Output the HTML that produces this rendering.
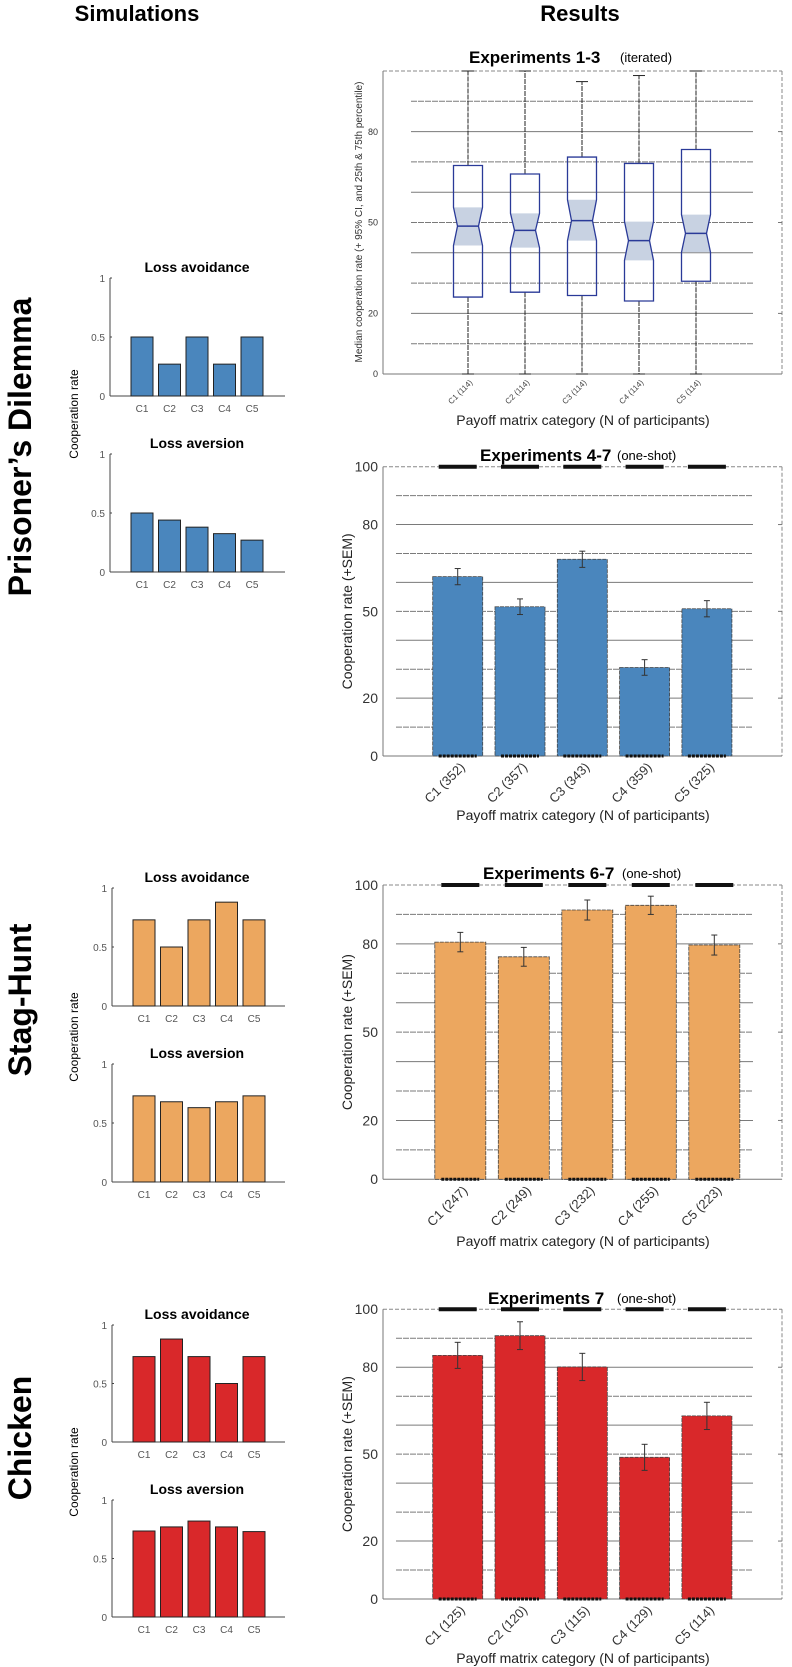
<!DOCTYPE html>
<html><head><meta charset="utf-8">
<style>
html,body{margin:0;padding:0;background:#fff;}
svg{display:block;font-family:"Liberation Sans",sans-serif;}
</style></head>
<body>
<svg id="fig" width="792" height="1667" viewBox="0 0 792 1667" xmlns="http://www.w3.org/2000/svg">
<text x="137" y="21" font-size="22" font-weight="bold" text-anchor="middle">Simulations</text>
<text x="580" y="21" font-size="22" font-weight="bold" text-anchor="middle">Results</text>
<text transform="translate(31,447) rotate(-90)" font-size="32" font-weight="bold" text-anchor="middle">Prisoner’s Dilemma</text>
<text transform="translate(31,1000) rotate(-90)" font-size="32" font-weight="bold" text-anchor="middle">Stag-Hunt</text>
<text transform="translate(31,1438) rotate(-90)" font-size="32" font-weight="bold" text-anchor="middle">Chicken</text>
</svg>
<script>
// ---------- data ----------
const simCats = ["C1","C2","C3","C4","C5"];
const pdAvoid = [0.5,0.27,0.5,0.27,0.5];
const pdAversion = [0.5,0.44,0.38,0.325,0.27];
const shAvoid = [0.73,0.5,0.73,0.88,0.73];
const shAversion = [0.73,0.68,0.63,0.68,0.73];
const chAvoid = [0.73,0.88,0.73,0.5,0.73];
const chAversion = [0.735,0.77,0.82,0.77,0.73];
const simTicks = [0,0.5,1];
const simTickLabels = ["0","0.5","1"];

const bpLabels = ["C1 (114)","C2 (114)","C3 (114)","C4 (114)","C5 (114)"];
const bpQ1 = [25.4,27,25.9,24.1,30.6];
const bpQ3 = [68.8,66,71.6,69.5,74.1];
const bpMed = [48.8,47.4,50.6,44,46.4];
const bpNotchLo = [42.4,41.7,44,37.5,40.2];
const bpNotchHi = [55,53,57.5,50.3,52.6];
const bpWhiskLo = [0,0,0,0,0];
const bpWhiskHi = [100,100,96.5,98.5,100];

const yTicks = [0,20,50,80,100];
const gridVals = [10,20,30,40,50,60,70,80,90];

const pdLabels = ["C1 (352)","C2 (357)","C3 (343)","C4 (359)","C5 (325)"];
const pdVals = [62,51.6,68,30.6,50.9];
const pdErr = [2.8,2.7,2.8,2.7,2.8];
const shLabels = ["C1 (247)","C2 (249)","C3 (232)","C4 (255)","C5 (223)"];
const shVals = [80.6,75.6,91.5,93.1,79.6];
const shErr = [3.3,3.2,3.4,3.1,3.4];
const chLabels = ["C1 (125)","C2 (120)","C3 (115)","C4 (129)","C5 (114)"];
const chVals = [84.1,90.9,80.1,48.9,63.2];
const chErr = [4.5,4.8,4.7,4.5,4.7];

// ---------- helpers ----------
const NS="http://www.w3.org/2000/svg";
const svg=document.getElementById('fig');
function mk(tag,attrs,parent){const e=document.createElementNS(NS,tag);for(const k in attrs)e.setAttribute(k,attrs[k]);(parent||svg).appendChild(e);return e;}
function txt(s,attrs,parent){const e=mk('text',attrs,parent);e.textContent=s;return e;}

// ---------- simulation mini charts ----------
function simChart(name,title,vals,axL,y1,y0,color){
  const g=mk('g',{});
  
  
  const ys=v=>y0-(y0-y1)*v;
  const t=txt(title,{x:197,y:y1-6,'font-size':14,'font-weight':'bold','text-anchor':'middle'},g);
  
  
  mk('line',{x1:axL,y1:y0,x2:285,y2:y0,stroke:'#444','stroke-width':1},g);
  mk('line',{x1:axL,y1:y1,x2:axL,y2:y0,stroke:'#444','stroke-width':1},g);
  simTicks.forEach((v,i)=>{
    mk('line',{x1:axL,x2:axL+2,y1:ys(v),y2:ys(v),stroke:'#444'},g);
    const tl=txt(simTickLabels[i],{x:axL-5,y:ys(v)+4,'font-size':10,fill:'#555','text-anchor':'end'},g);
    
    
  });
  vals.forEach((v,i)=>{
    const cx=axL+32+i*27.5;
    const r=mk('rect',{x:cx-11,y:ys(v),width:22,height:y0-ys(v),fill:color,stroke:'#222','stroke-width':1},g);
    
    
    const l=txt(simCats[i],{x:cx,y:y0+16,'font-size':10,fill:'#555','text-anchor':'middle'},g);
    
    
  });
}
function simYTitle(cy){
  const t=txt('Cooperation rate',{transform:`translate(78,${cy}) rotate(-90)`,'font-size':12,'text-anchor':'middle'});
  
  
}
const BLUE='#4a86bd',ORANGE='#eca75f',RED='#d9282a';
simChart('pd-loss-avoidance','Loss avoidance',pdAvoid,110,278,396,BLUE);
simChart('pd-loss-aversion','Loss aversion',pdAversion,110,454,572,BLUE);
simYTitle(414);
simChart('sh-loss-avoidance','Loss avoidance',shAvoid,112,888,1006,ORANGE);
simChart('sh-loss-aversion','Loss aversion',shAversion,112,1064,1182,ORANGE);
simYTitle(1037);
simChart('ch-loss-avoidance','Loss avoidance',chAvoid,112,1325,1442,RED);
simChart('ch-loss-aversion','Loss aversion',chAversion,112,1500,1617,RED);
simYTitle(1472);

// ---------- shared frame ----------
function frame(g,y100,y0,gridX,tickSize,tickX){
  const ys=v=>y0-(y0-y100)*v/100;
  gridVals.forEach(v=>{
    const dashed=(v%20===10);
    mk('line',{x1:gridX,x2:753,y1:ys(v),y2:ys(v),stroke:'#7a7a7a','stroke-width':1,'stroke-dasharray':dashed?'6,1':'none'},g);
  });
  mk('line',{x1:383,x2:782,y1:y100,y2:y100,stroke:'#888','stroke-dasharray':'4,2'},g);
  mk('line',{x1:782,x2:782,y1:y100,y2:y0,stroke:'#888','stroke-dasharray':'4,2'},g);
  mk('line',{x1:383,x2:782,y1:y0,y2:y0,stroke:'#777'},g);
  mk('line',{x1:383,x2:383,y1:y100,y2:y0,stroke:'#777'},g);
  [20,50,80].forEach(v=>mk('line',{x1:778,x2:782,y1:ys(v),y2:ys(v),stroke:'#777'},g));
  yTicks.forEach(v=>{
    if(tickSize<10 && v===100) return;
    const t=txt(String(v),{x:tickX,y:ys(v)+tickSize*0.35,'font-size':tickSize,fill:'#333','text-anchor':'end'},g);
    
    
  });
  return ys;
}
function chartTitle(g,main,sub,x1,x2,y,size){
  const a=txt(main,{x:x1,y:y+6,'font-size':size,'font-weight':'bold'},g);
  
  
  const b=txt(sub,{x:x2,y:y+5,'font-size':13},g);
  
  
}
function xTitle(g,y){
  const t=txt('Payoff matrix category (N of participants)',{x:583,y:y+5,'font-size':14,fill:'#222','text-anchor':'middle'},g);
  
  
}

// ---------- boxplot ----------
(function(){
  const g=mk('g',{});
  
  
  const y100=71,y0=374;
  const ys=frame(g,y100,y0,411,9,378);
  chartTitle(g,'Experiments 1-3','(iterated)',469,620,57,17);
  const yt=txt('Median cooperation rate (+ 95% CI, and 25th & 75th percentile)',{transform:'translate(362,222) rotate(-90)','font-size':10,fill:'#333','text-anchor':'middle'},g);
  
  
  bpMed.forEach((m,i)=>{
    const cx=468+i*57, hw=14.5, nw=10.5;
    const bg=mk('g',{},g);
    
    
    mk('line',{x1:cx,x2:cx,y1:ys(bpQ3[i]),y2:ys(bpWhiskHi[i]),stroke:'#222','stroke-dasharray':'5,1'},bg);
    mk('line',{x1:cx,x2:cx,y1:ys(bpQ1[i]),y2:ys(bpWhiskLo[i]),stroke:'#222','stroke-dasharray':'5,1'},bg);
    mk('line',{x1:cx-6,x2:cx+6,y1:ys(bpWhiskHi[i]),y2:ys(bpWhiskHi[i]),stroke:'#222'},bg);
    mk('line',{x1:cx-6,x2:cx+6,y1:ys(bpWhiskLo[i]),y2:ys(bpWhiskLo[i]),stroke:'#222'},bg);
    const yq1=ys(bpQ1[i]),yq3=ys(bpQ3[i]),ym=ys(m),yl=ys(bpNotchLo[i]),yh=ys(bpNotchHi[i]);
    mk('polygon',{points:`${cx-hw},${yh} ${cx+hw},${yh} ${cx+nw},${ym} ${cx+hw},${yl} ${cx-hw},${yl} ${cx-nw},${ym}`,fill:'#c8d2e2',stroke:'none'},bg);
    mk('polygon',{points:`${cx-hw},${yq3} ${cx+hw},${yq3} ${cx+hw},${yh} ${cx+nw},${ym} ${cx+hw},${yl} ${cx+hw},${yq1} ${cx-hw},${yq1} ${cx-hw},${yl} ${cx-nw},${ym} ${cx-hw},${yh}`,fill:'none',stroke:'#2a3a98','stroke-width':1.3},bg);
    mk('line',{x1:cx-nw,x2:cx+nw,y1:ym,y2:ym,stroke:'#2a3a98','stroke-width':1.5},bg);
    const l=txt(bpLabels[i],{transform:`translate(${cx+5},${y0+9}) rotate(-45)`,'font-size':8,fill:'#444','text-anchor':'end'},g);
    
    
  });
  xTitle(g,420);
})();

// ---------- bar charts ----------
function barChart(name,y100,y0,c0,step,bw,vals,errs,labels,color,title,tx1,tx2,ty,xty){
  const g=mk('g',{});
  
  
  const ys=frame(g,y100,y0,396,14,378);
  chartTitle(g,title,'(one-shot)',tx1,tx2,ty,17);
  const yt=txt('Cooperation rate (+SEM)',{transform:`translate(352,${(y0+y100)/2}) rotate(-90)`,'font-size':14,fill:'#222','text-anchor':'middle'},g);
  
  
  vals.forEach((v,i)=>{
    const cx=c0+i*step;
    const r=mk('rect',{x:cx-bw/2,y:ys(v),width:bw,height:y0-ys(v),fill:color,stroke:'#444','stroke-width':0.8,'stroke-dasharray':'4,1'},g);
    
    
    mk('line',{x1:cx-19,x2:cx+19,y1:y100,y2:y100,stroke:'#111','stroke-width':4},g);
    mk('line',{x1:cx-19,x2:cx+19,y1:y0,y2:y0,stroke:'#111','stroke-width':3,'stroke-dasharray':'3,1'},g);
    const e=mk('g',{},g);
    
    
    mk('line',{x1:cx,x2:cx,y1:ys(v+errs[i]),y2:ys(v-errs[i]),stroke:'#333'},e);
    mk('line',{x1:cx-3,x2:cx+3,y1:ys(v+errs[i]),y2:ys(v+errs[i]),stroke:'#333'},e);
    mk('line',{x1:cx-3,x2:cx+3,y1:ys(v-errs[i]),y2:ys(v-errs[i]),stroke:'#333'},e);
    const l=txt(labels[i],{transform:`translate(${cx+8},${y0+12}) rotate(-45)`,'font-size':13,fill:'#333','text-anchor':'end'},g);
    
    
  });
  xTitle(g,xty);
}
barChart('pd-experiments-4-7',466.7,756,457.7,62.3,50,pdVals,pdErr,pdLabels,BLUE,'Experiments 4-7',480,617,455,815);
barChart('sh-experiments-6-7',885,1179.3,460.3,63.5,51,shVals,shErr,shLabels,ORANGE,'Experiments 6-7',483,622,873,1241);
barChart('ch-experiments-7',1309.3,1599,457.7,62.3,50,chVals,chErr,chLabels,RED,'Experiments 7',488,617,1298,1658);
</script>
</body></html>
